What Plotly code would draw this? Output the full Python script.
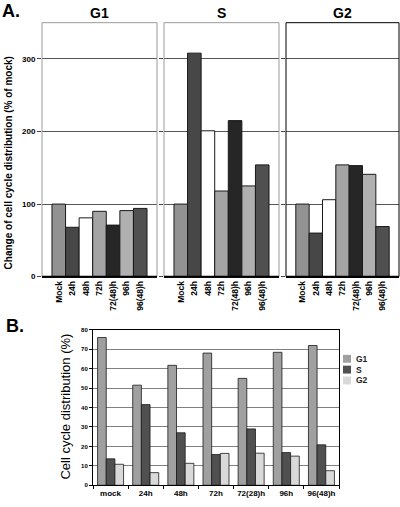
import plotly.graph_objects as go

# ---------------- data ----------------
cats_a = ["Mock", "24h", "48h", "72h", "72(48)h", "96h", "96(48)h"]
g1_vals = [100, 68, 81, 90, 71, 91, 94]
s_vals = [100, 308, 201, 118, 215, 125, 154]
g2_vals = [100, 60, 106, 154, 153, 141, 69]
bar_colors_a = ["#929292", "#474747", "#ffffff", "#a4a4a4", "#262626", "#b0b0b0", "#505050"]
panel_titles = ["G1", "S", "G2"]
yticks_a = [0, 100, 200, 300]

cats_b = ["mock", "24h", "48h", "72h", "72(28)h", "96h", "96(48)h"]
b_g1 = [76, 51.5, 61.7, 68, 55, 68.4, 71.9]
b_s = [13.6, 41.5, 27, 15.8, 29, 16.8, 20.8]
b_g2 = [10.8, 6.5, 11.3, 16.4, 16.5, 15, 7.5]
b_names = ["G1", "S", "G2"]
b_colors = ["#a0a0a0", "#505050", "#d9d9d9"]
yticks_b = [0, 10, 20, 30, 40, 50, 60, 70, 80]

FONT = "Liberation Sans, Arial, sans-serif"
W, H = 400, 507

def px_x(p):
    return p / W

def px_y(p):
    return 1 - p / H

fig = go.Figure()

# ---------------- panel A ----------------
a_series = [g1_vals, s_vals, g2_vals]
x_domains = [(42, 157), (164, 279), (286, 399)]
for i, vals in enumerate(a_series):
    n = i + 1
    key = "" if n == 1 else str(n)
    fig.add_trace(go.Bar(
        x=cats_a, y=vals, marker=dict(color=bar_colors_a, line=dict(color="#1a1a1a", width=1)),
        xaxis=f"x{key}", yaxis=f"y{key}", showlegend=False, width=1.0,
    ))
    xa = dict(domain=[px_x(x_domains[i][0]), px_x(x_domains[i][1])], anchor=f"y{key}",
              type="category", range=[-1.235, 7.235], tickangle=-90,
              tickfont=dict(family=FONT, size=8.5, color="#000", weight="bold"), showgrid=False,
              showline=True, linecolor="#000", linewidth=1, ticks="", fixedrange=True)
    ya = dict(domain=[px_y(278), px_y(20)], anchor=f"x{key}",
              range=[0, 350], tickvals=yticks_a, showticklabels=(i == 0),
              tickfont=dict(family=FONT, size=8, color="#000", weight="bold"),
              showgrid=True, gridcolor="#555", gridwidth=1, zeroline=False,
              ticks="outside", ticklen=4, tickcolor="#444", showline=False)
    fig.layout[f"xaxis{key}"] = xa
    fig.layout[f"yaxis{key}"] = ya
    border = "#000" if i == 2 else "#9a9a9a"
    fig.add_shape(type="rect", xref=f"x{key} domain", yref=f"y{key} domain",
                  x0=0, x1=1, y0=0, y1=1, line=dict(color=border, width=1), layer="above")
    fig.add_shape(type="line", xref=f"x{key} domain", yref=f"y{key} domain",
                  x0=0, x1=1, y0=0, y1=0, line=dict(color="#000", width=1.5), layer="above")
    fig.add_annotation(text=f"<b>{panel_titles[i]}</b>", xref="paper", yref="paper",
                       x=px_x((x_domains[i][0] + x_domains[i][1]) / 2), y=px_y(10),
                       showarrow=False, font=dict(family=FONT, size=14, color="#000"),
                       xanchor="center", yanchor="middle")

fig.add_annotation(text="<b>Change of cell cycle distribution (% of mock)</b>", xref="paper", yref="paper",
                   x=px_x(8), y=px_y(163), textangle=-90, showarrow=False,
                   font=dict(family=FONT, size=10, color="#000"), xanchor="center", yanchor="middle")
fig.add_annotation(text="<b>A.</b>", xref="paper", yref="paper", x=px_x(0), y=px_y(8),
                   showarrow=False, font=dict(family=FONT, size=18, color="#000"),
                   xanchor="left", yanchor="middle")

# ---------------- panel B ----------------
for name, vals, col in zip(b_names, [b_g1, b_s, b_g2], b_colors):
    fig.add_trace(go.Bar(x=cats_b, y=vals, name=name, xaxis="x4", yaxis="y4", showlegend=False,
                         marker=dict(color=col, line=dict(color="#1a1a1a", width=0.8))))

fig.layout["xaxis4"] = dict(domain=[px_x(93), px_x(339)], anchor="y4", type="category",
                            range=[-0.5, 6.5], tickangle=0,
                            tickfont=dict(family=FONT, size=8, color="#000", weight="bold"),
                            showline=True, linecolor="#000", linewidth=1, mirror=True,
                            ticks="outside", ticklen=3, tickson="boundaries", tickcolor="#000",
                            showgrid=False, fixedrange=True)
fig.layout["yaxis4"] = dict(domain=[px_y(490), px_y(332)], anchor="x4", range=[0, 80],
                            tickvals=yticks_b, tickfont=dict(family=FONT, size=6, color="#000", weight="bold"),
                            showline=True, linecolor="#000", linewidth=1, mirror=True,
                            ticks="outside", ticklen=3, tickcolor="#000",
                            showgrid=True, gridcolor="#808080", gridwidth=1, zeroline=False)

fig.add_annotation(text="Cell cycle distribution (%)", xref="paper", yref="paper",
                   x=px_x(66), y=px_y(410), textangle=-90, showarrow=False,
                   font=dict(family=FONT, size=13, color="#000"), xanchor="center", yanchor="middle")
fig.add_annotation(text="<b>B.</b>", xref="paper", yref="paper", x=px_x(4), y=px_y(328),
                   showarrow=False, font=dict(family=FONT, size=18, color="#000"),
                   xanchor="left", yanchor="middle")

# compact legend for panel B (swatch + label)
leg_x, leg_y0, leg_dy = 343, 361.5, 11
for k, (name, col) in enumerate(zip(b_names, b_colors)):
    yc = leg_y0 + k * leg_dy
    fig.add_shape(type="rect", xref="paper", yref="paper",
                  x0=px_x(leg_x), x1=px_x(leg_x + 8), y0=px_y(yc + 4), y1=px_y(yc - 4),
                  fillcolor=col, line=dict(width=0))
    fig.add_annotation(text=f"<b>{name}</b>", xref="paper", yref="paper", x=px_x(leg_x + 11), y=px_y(yc),
                       showarrow=False, xanchor="left", yanchor="middle",
                       font=dict(family=FONT, size=8.5, color="#222"))

fig.update_layout(
    width=W, height=H, margin=dict(l=0, r=0, t=0, b=0),
    paper_bgcolor="#fff", plot_bgcolor="#fff",
    bargap=0.26, bargroupgap=0, barmode="group",
    font=dict(family=FONT, color="#000"), showlegend=False,
)

fig.write_html("out.html", config={"displayModeBar": False, "staticPlot": True},
               post_script="document.body.style.margin='0';document.body.style.overflow='hidden';")
